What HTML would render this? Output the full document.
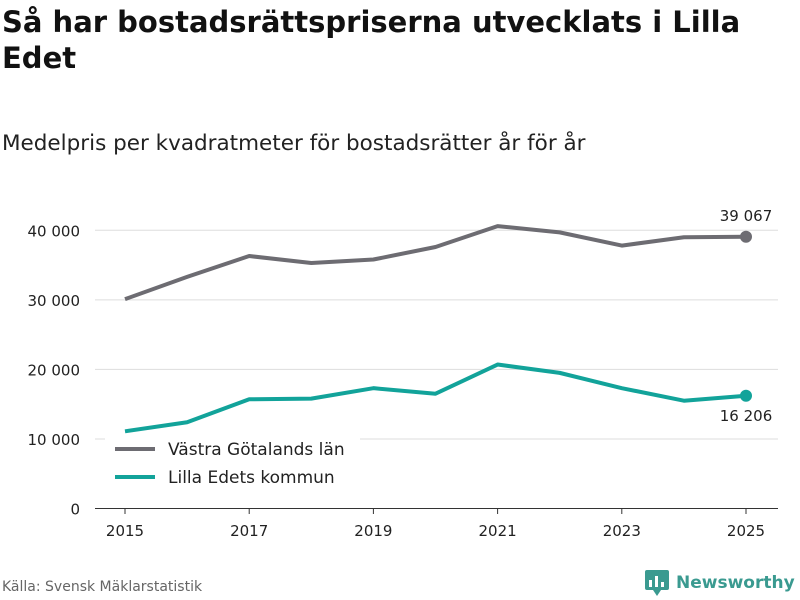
<!DOCTYPE html>
<html><head><meta charset="utf-8"><style>
body{margin:0;width:800px;height:600px;background:#fff;font-family:"DejaVu Sans","Liberation Sans",sans-serif;overflow:hidden;position:relative}
h1{position:absolute;left:2px;top:4px;margin:0;font-size:29px;line-height:36px;font-weight:bold;color:#111;width:790px}
.sub{position:absolute;left:2px;top:131px;font-size:21.5px;color:#222}
.src{position:absolute;left:2px;top:579px;font-size:14px;color:#666}
.logo{position:absolute;left:645px;top:570px;font-size:17px;font-weight:bold;color:#3a9a90;display:flex;align-items:center;gap:7px}
</style></head><body>
<h1>Så har bostadsrättspriserna utvecklats i Lilla Edet</h1>
<div class="sub">Medelpris per kvadratmeter för bostadsrätter år för år</div>
<svg id="c" width="800" height="600" style="position:absolute;left:0;top:0"></svg>
<div class="src">Källa: Svensk Mäklarstatistik</div>
<div class="logo"><svg width="24" height="26"><rect x="0" y="0" width="24" height="20" rx="2" fill="#3a9a90"/><polygon points="8,20 16,20 12,26" fill="#3a9a90"/><rect x="4" y="10" width="3" height="7" fill="#fff"/><rect x="10" y="6" width="3" height="11" fill="#fff"/><rect x="16" y="12" width="3" height="5" fill="#fff"/></svg>Newsworthy</div>
<script>
const years=[2015,2016,2017,2018,2019,2020,2021,2022,2023,2024,2025];
const vastra=[30100,33300,36300,35300,35800,37600,40600,39700,37800,39000,39067];
const lilla=[11100,12400,15700,15800,17300,16500,20700,19500,17300,15500,16206];
const yTicks=[0,10000,20000,30000,40000];
const xTicks=[2015,2017,2019,2021,2023,2025];
const NS="http://www.w3.org/2000/svg",svg=document.getElementById('c');
const x=v=>125+(v-2015)*62.1, y=v=>508.5-v*0.006955;
const fmt=v=>v.toLocaleString('en').replace(/,/g,' ');
function el(t,a,txt){const e=document.createElementNS(NS,t);for(const k in a)e.setAttribute(k,a[k]);if(txt!=null)e.textContent=txt;svg.appendChild(e);return e;}
yTicks.forEach(v=>{
const g=el('line',{x1:95,x2:778,y1:y(v),y2:y(v),stroke:v?'#ddd':'#333','stroke-width':1});


const t=el('text',{x:80,y:y(v)+6,'text-anchor':'end','font-size':15,fill:'#222'},fmt(v));


});
xTicks.forEach(v=>{
const l=el('line',{x1:x(v),x2:x(v),y1:508,y2:514,stroke:'#333'});


const t=el('text',{x:x(v),y:536,'text-anchor':'middle','font-size':15,fill:'#222'},v);


});
function series(d,c,name,lab,dy){
const p=el('polyline',{points:d.map((v,i)=>x(years[i])+','+y(v)).join(' '),fill:'none',stroke:c,'stroke-width':4,'stroke-linejoin':'round'});


const n=d.length-1;
const ci=el('circle',{cx:x(years[n]),cy:y(d[n]),r:6,fill:c});


const t=el('text',{x:x(years[n]),y:y(d[n])+dy,'text-anchor':'middle','font-size':15,fill:'#222'},fmt(d[n]));


}
series(vastra,'#6d6c72','vastra-gotaland',0,-16);
series(lilla,'#12a39a','lilla-edet',0,25);
el('rect',{x:105,y:434,width:255,height:58,fill:'#fff'});
[['Västra Götalands län','#6d6c72',449],['Lilla Edets kommun','#12a39a',477]].forEach(([n,c,yy])=>{
const l=el('line',{x1:115,x2:155,y1:yy,y2:yy,stroke:c,'stroke-width':4});


const t=el('text',{x:168,y:yy+6,'font-size':17,fill:'#222'},n);


});
</script>
</body></html>
